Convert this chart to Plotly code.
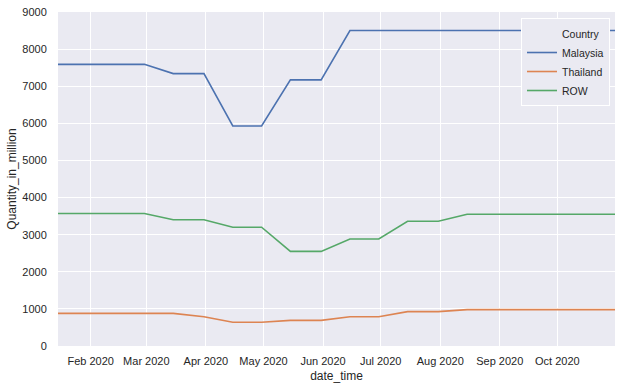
import plotly.graph_objects as go

dates = ["2020-01-15", "2020-01-31", "2020-02-15", "2020-02-29", "2020-03-15", "2020-03-31",
         "2020-04-15", "2020-04-30", "2020-05-15", "2020-05-31", "2020-06-15", "2020-06-30",
         "2020-07-15", "2020-07-31", "2020-08-15", "2020-08-31", "2020-09-15", "2020-09-30",
         "2020-10-15", "2020-10-31"]

malaysia = [7590, 7590, 7590, 7590, 7340, 7340, 5930, 5930, 7170, 7170,
            8500, 8500, 8500, 8500, 8500, 8500, 8500, 8500, 8500, 8500]
thailand = [880, 880, 880, 880, 880, 790, 640, 640, 690, 690,
            790, 790, 925, 925, 980, 980, 980, 980, 980, 980]
row = [3570, 3570, 3570, 3570, 3400, 3400, 3200, 3200, 2550, 2550,
       2885, 2885, 3360, 3360, 3550, 3550, 3550, 3550, 3550, 3550]

series_names = ["Malaysia", "Thailand", "ROW"]
series_values = [malaysia, thailand, row]
colors = ["#4C72B0", "#DD8452", "#55A868"]

text_color = "#262626"

fig = go.Figure()
# legend title shown as an entry without a handle (seaborn style)
fig.add_trace(go.Scatter(x=[dates[0]], y=[None], mode="lines", name="Country",
                         line=dict(color="rgba(0,0,0,0)"), hoverinfo="skip"))
for name, vals, c in zip(series_names, series_values, colors):
    fig.add_trace(go.Scatter(x=dates, y=vals, mode="lines", name=name,
                             line=dict(color=c, width=1.6)))

fig.update_layout(
    width=622, height=389,
    margin=dict(l=58, r=7, t=12, b=43),
    paper_bgcolor="white",
    plot_bgcolor="#EAEAF2",
    font=dict(family="Liberation Sans, Arial, sans-serif", size=11, color=text_color),
    legend=dict(x=0.991, y=0.982, xanchor="right", yanchor="top",
                bgcolor="#EAEAF2", bordercolor="white", borderwidth=1,
                font=dict(size=10.5, color=text_color)),
    showlegend=True,
)
fig.update_xaxes(
    type="date",
    range=["2020-01-15", "2020-10-31"],
    tick0="2020-02-01", dtick="M1", tickformat="%b %Y",
    showgrid=True, gridcolor="white", gridwidth=1.2, zeroline=False,
    ticks="outside", ticklen=5, tickcolor="rgba(0,0,0,0)",
    title=dict(text="date_time", font=dict(size=12), standoff=5),
    showline=False, automargin=True,
)
fig.update_yaxes(
    range=[0, 9000], dtick=1000,
    showgrid=True, gridcolor="white", gridwidth=1.2, zeroline=False,
    ticks="outside", ticklen=8, tickcolor="rgba(0,0,0,0)",
    title=dict(text="Quantity_in_million", font=dict(size=12), standoff=3),
    showline=False, automargin=True,
)

fig.write_html("out.html", config={"displayModeBar": False},
               post_script="document.body.style.margin='0';")
